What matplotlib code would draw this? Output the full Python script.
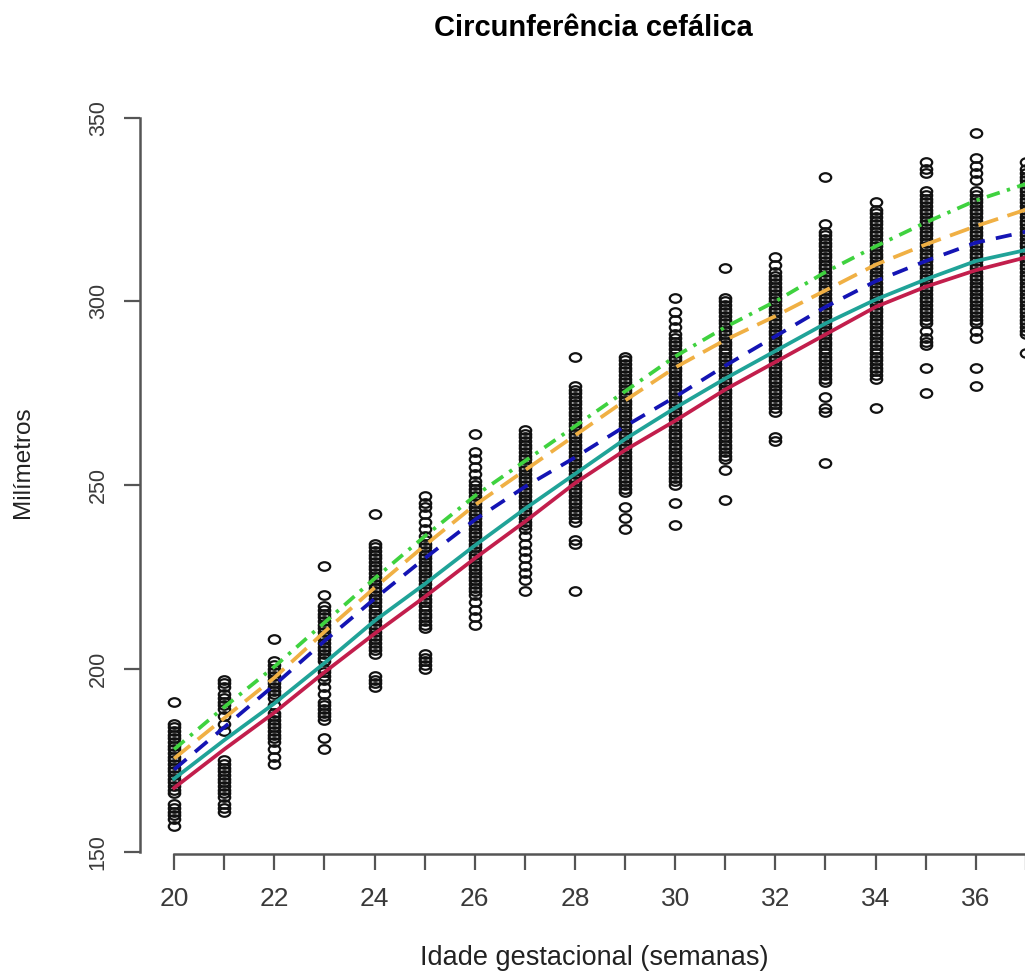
import numpy as np
import matplotlib
matplotlib.use("Agg")
import matplotlib.pyplot as plt
from matplotlib.path import Path
from matplotlib.transforms import Affine2D

plt.rcParams['font.family'] = ['Liberation Sans', 'DejaVu Sans']

# head circumference (mm) per gestational week
w20 = [191, 185, 184, 183, 182, 181, 180, 179, 178, 177, 176, 175, 174, 173, 172, 171, 170, 169, 168, 167, 166,
       163, 162, 161, 160, 159, 157]
w21 = [197, 196, 195, 193, 192, 191, 190, 189, 187, 185, 183, 175, 174, 173, 172, 171, 170, 169, 168, 167, 166,
       165, 163, 162, 161]
w22 = [208, 202, 201, 200, 199, 198, 197, 196, 195, 194, 193, 192, 190, 188, 187, 186, 185, 184, 183, 182, 181,
       180, 178, 176, 174]
w23 = [228, 220, 217, 216, 215, 214, 213, 212, 211, 210, 209, 208, 207, 206, 205, 204, 203, 202, 200, 199, 198,
       197, 195, 193, 191, 190, 189, 188, 187, 186, 181, 178]
w24 = [242, 234, 233, 232, 231, 230, 229, 228, 227, 226, 225, 224, 223, 222, 221, 220, 219, 218, 217, 216, 215,
       214, 213, 212, 211, 210, 209, 208, 207, 206, 205, 204, 198, 197, 196, 195]
w25 = [247, 245, 244, 242, 240, 238, 236, 235, 234, 233, 232, 231, 230, 229, 228, 227, 226, 225, 224, 223, 222,
       221, 220, 219, 218, 217, 216, 215, 214, 213, 212, 211, 204, 203, 202, 201, 200]
w26 = [264, 259, 257, 255, 253, 251, 250, 249, 248, 247, 246, 245, 244, 243, 242, 241, 240, 239, 238, 237, 236,
       235, 234, 233, 232, 231, 230, 229, 228, 227, 226, 225, 224, 223, 222, 221, 220, 218, 216, 214, 212]
w27 = [265, 264, 263, 262, 261, 260, 259, 258, 257, 256, 255, 254, 253, 252, 251, 250, 249, 248, 247, 246, 245,
       244, 243, 242, 241, 240, 239, 238, 236, 234, 232, 230, 228, 226, 224, 221]
w28 = [285, 277, 276, 275, 274, 273, 272, 271, 270, 269, 268, 267, 266, 265, 264, 263, 262, 261, 260, 259, 258,
       257, 256, 255, 254, 253, 252, 251, 250, 249, 248, 247, 246, 245, 244, 243, 242, 241, 240, 235, 234, 221]
w29 = [285, 284, 283, 282, 281, 280, 279, 278, 277, 276, 275, 274, 273, 272, 271, 270, 269, 268, 267, 266, 265,
       264, 263, 262, 261, 260, 259, 258, 257, 256, 255, 254, 253, 252, 251, 250, 249, 248, 244, 241, 238]
w30 = [301, 297, 295, 293, 291, 290, 289, 288, 287, 286, 285, 284, 283, 282, 281, 280, 279, 278, 277, 276, 275,
       274, 273, 272, 271, 270, 269, 268, 267, 266, 265, 264, 263, 262, 261, 260, 259, 258, 257, 256, 255, 254,
       253, 252, 251, 250, 245, 239]
w31 = [309, 301, 300, 299, 298, 297, 296, 295, 294, 293, 292, 291, 290, 289, 288, 287, 286, 285, 284, 283, 282,
       281, 280, 279, 278, 277, 276, 275, 274, 273, 272, 271, 270, 269, 268, 267, 266, 265, 264, 263, 262, 261,
       260, 259, 258, 257, 254, 246]
w32 = [312, 310, 308, 307, 306, 305, 304, 303, 302, 301, 300, 299, 298, 297, 296, 295, 294, 293, 292, 291, 290,
       289, 288, 287, 286, 285, 284, 283, 282, 281, 280, 279, 278, 277, 276, 275, 274, 273, 272, 271, 270, 263, 262]
w33 = [334, 321, 319, 318, 317, 316, 315, 314, 313, 312, 311, 310, 309, 308, 307, 306, 305, 304, 303, 302, 301,
       300, 299, 298, 297, 296, 295, 294, 293, 292, 291, 290, 289, 288, 287, 286, 285, 284, 283, 282, 281, 280,
       279, 278, 274, 271, 270, 256]
w34 = [327, 325, 324, 323, 322, 321, 320, 319, 318, 317, 316, 315, 314, 313, 312, 311, 310, 309, 308, 307, 306,
       305, 304, 303, 302, 301, 300, 299, 298, 297, 296, 295, 294, 293, 292, 291, 290, 289, 288, 287, 286, 285,
       284, 283, 282, 281, 280, 279, 271]
w35 = [338, 336, 335, 330, 329, 328, 327, 326, 325, 324, 323, 322, 321, 320, 319, 318, 317, 316, 315, 314, 313,
       312, 311, 310, 309, 308, 307, 306, 305, 304, 303, 302, 301, 300, 299, 298, 297, 296, 295, 294, 292, 290,
       289, 288, 282, 275]
w36 = [346, 339, 337, 335, 333, 330, 329, 328, 327, 326, 325, 324, 323, 322, 321, 320, 319, 318, 317, 316, 315,
       314, 313, 312, 311, 310, 309, 308, 307, 306, 305, 304, 303, 302, 301, 300, 299, 298, 297, 296, 295, 294,
       292, 290, 282, 277]
w37 = [338, 336, 335, 334, 333, 332, 331, 330, 329, 328, 327, 326, 325, 324, 323, 322, 321, 320, 319, 318, 317,
       316, 315, 314, 313, 312, 311, 310, 309, 308, 307, 306, 305, 304, 303, 302, 301, 300, 299, 298, 297, 296,
       295, 294, 293, 292, 291, 286]
obs = [w20, w21, w22, w23, w24, w25, w26, w27, w28, w29, w30, w31, w32, w33, w34, w35, w36, w37]

weeks = list(range(20, 38))

# fitted curves at each week
c_green = [178, 189.5, 200.5, 212.5, 224.5, 236, 247, 256.5, 266, 275.5, 285, 293, 300, 308, 315, 321.5, 327.5, 332]
c_orange = [175.5, 186.5, 197.5, 210, 222, 233.5, 244.5, 254, 263.5, 273, 282, 289.5, 296, 303, 310, 315.5, 320.5, 325]
c_blue = [172.5, 184, 195.5, 207.5, 219, 230, 240.5, 249.5, 257.5, 266, 274, 282.5, 290.5, 298.5, 305.5, 311, 316, 319]
c_teal = [170, 180.5, 190.5, 201.5, 213, 223, 233.5, 243.5, 253, 262.5, 271, 279, 286.5, 294, 300.5, 306, 311, 314]
c_red = [167.5, 178, 188, 199, 209.5, 219.5, 230, 240, 250.5, 259.5, 267.5, 276, 283.5, 291, 298.5, 304, 308.5, 312]

xticks = list(range(20, 38))
xticklabels = [str(v) if v % 2 == 0 else '' for v in xticks]
yticks = [150, 200, 250, 300, 350]

W, H = 1025, 974
fig = plt.figure(figsize=(W / 100, H / 100), dpi=100)
ax = fig.add_axes([140 / W, 1 - 854 / H, 920 / W, 749 / H])
ax.set_xlim(19.32, 37.68)
ax.set_ylim(149.5, 353.5)

# slightly squashed circle, the source image is stretched sideways
ell = Path.unit_circle().transformed(Affine2D().scale(1.0, 0.75))
for wk, vals in zip(weeks, obs):
    ax.plot([wk] * len(vals), vals, linestyle='none', marker=ell, ms=8.2,
            mfc='none', mec='#111111', mew=1.6, clip_on=False, zorder=2)

lw = 2.7
ax.plot(weeks, c_green, color='#3fd23f', lw=lw, linestyle=(0, (3.6, 2, 0.9, 2)), zorder=3)
ax.plot(weeks, c_orange, color='#f0b044', lw=lw, linestyle=(0, (5.5, 2.6)), zorder=3)
ax.plot(weeks, c_blue, color='#1414b4', lw=lw, linestyle=(0, (4.3, 3)), zorder=3)
ax.plot(weeks, c_teal, color='#20a398', lw=lw, zorder=3)
ax.plot(weeks, c_red, color='#c21e4c', lw=lw, zorder=3)

for s in ['top', 'right']:
    ax.spines[s].set_visible(False)
for s in ['left', 'bottom']:
    ax.spines[s].set_color('#555555')
    ax.spines[s].set_linewidth(1.8)
ax.spines['left'].set_bounds(150, 350)
ax.spines['bottom'].set_bounds(20, 37)

ax.set_xticks(xticks)
ax.set_xticklabels(xticklabels, fontsize=19, color='#3a3a3a')
ax.set_yticks(yticks)
ax.set_yticklabels([str(v) for v in yticks], fontsize=15.5, color='#3a3a3a', rotation=90, va='center')
ax.tick_params(axis='x', length=11.5, width=1.6, color='#555555', pad=12)
ax.tick_params(axis='y', length=11.5, width=1.6, color='#555555', pad=11)

fig.text(593 / W, 1 - 28 / H, 'Circunferência cefálica', ha='center', va='center',
         fontsize=21, fontweight='bold')
fig.text(594 / W, 1 - 958 / H, 'Idade gestacional (semanas)', ha='center', va='center',
         fontsize=19.5, color='#222222')
fig.text(23 / W, 1 - 462 / H, 'Milímetros', ha='center', va='center', rotation=90,
         fontsize=17.5, color='#222222')

fig.savefig('out.png', dpi=100)
